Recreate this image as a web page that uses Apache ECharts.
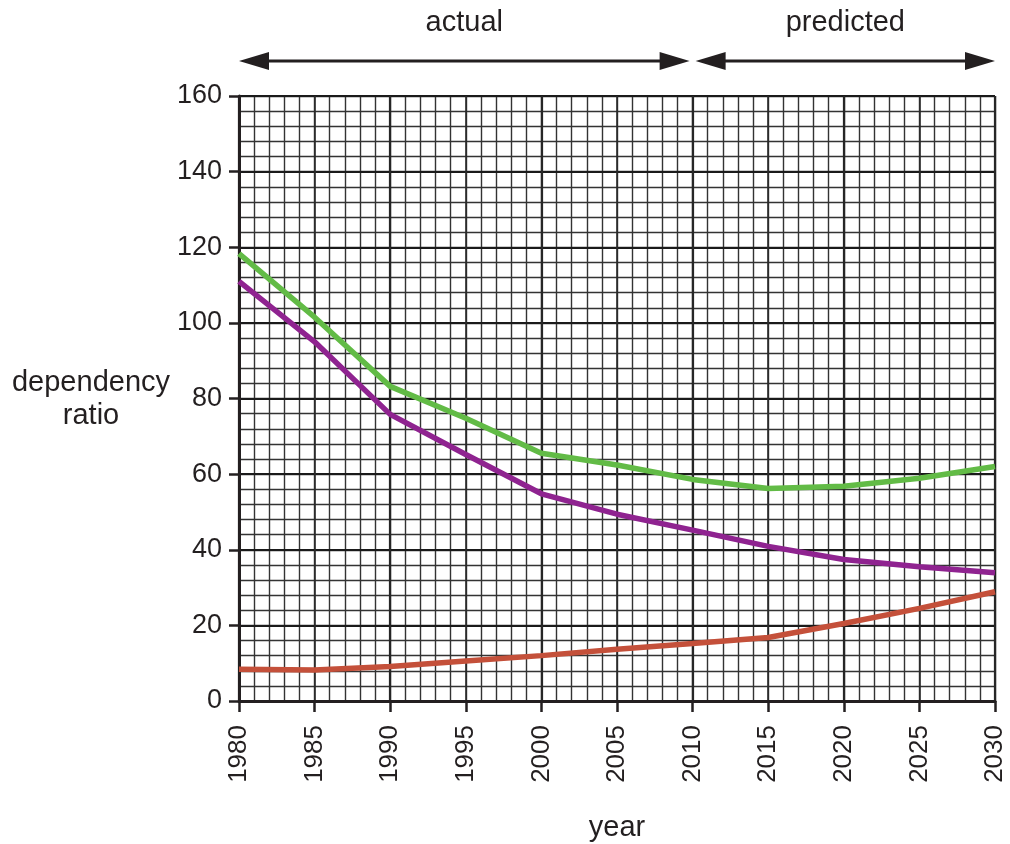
<!DOCTYPE html>
<html><head><meta charset="utf-8">
<script src="https://cdn.jsdelivr.net/npm/echarts@6/dist/echarts.min.js"></script>
<style>html,body{margin:0;padding:0;background:#fff}#c{width:1010px;height:844px}</style>
</head><body><div id="c"></div>
<script>
const years = [1980,1985,1990,1995,2000,2005,2010,2015,2020,2025,2030];
const greenVals  = [118.3,101.5,83.2,74.8,65.5,62.4,58.6,56.2,56.8,58.9,62.0];
const purpleVals = [111.0,95.0,75.8,65.2,54.8,49.4,45.2,40.9,37.4,35.5,33.9];
const redVals    = [8.4,8.2,9.1,10.6,12.0,13.7,15.2,16.8,20.5,24.5,28.9];
const yTicks = [0,20,40,60,80,100,120,140,160];
const periods = [
  {label:'actual', from:1980, to:2010},
  {label:'predicted', from:2010, to:2030}
];
const FONT = '"Liberation Sans", Arial, Helvetica, sans-serif';
const TXT = '#231f20';
const chart = echarts.init(document.getElementById('c'), null, {renderer:'canvas'});
const pair = v => years.map((y,i)=>[y,v[i]]);
const gridAxisX = (interval, color, width) => ({
  type:'value',min:1980,max:2030,interval:interval,position:'bottom',
  axisLine:{show:false},axisTick:{show:false},axisLabel:{show:false},
  splitLine:{show:true,lineStyle:{color:color,width:width}}
});
const gridAxisY = (interval, color, width) => ({
  type:'value',min:0,max:160,interval:interval,position:'left',
  axisLine:{show:false},axisTick:{show:false},axisLabel:{show:false},
  splitLine:{show:true,lineStyle:{color:color,width:width}}
});
const option = {
  animation:false,
  backgroundColor:'#fff',
  grid:{left:239,right:15,top:96,bottom:143,containLabel:false,outerBoundsMode:'none'},
  xAxis:[{
    type:'value',min:1980,max:2030,interval:5,
    name:'year',nameLocation:'middle',nameGap:112,
    nameTextStyle:{fontFamily:FONT,fontSize:29,color:TXT},
    axisLine:{show:true,onZero:false,lineStyle:{color:'#231f20',width:3}},
    axisTick:{show:true,length:11,lineStyle:{color:'#231f20',width:2.5}},
    axisLabel:{rotate:90,fontFamily:FONT,fontSize:26,color:TXT,margin:24,formatter:v=>String(v)},
    splitLine:{show:true,lineStyle:{color:'#2a2a2a',width:1.6}},
    z:3
  },
    gridAxisX(1,'#333',1.4),
    gridAxisX(10,'#1a1a1a',2.2)
  ],
  yAxis:[{
    type:'value',min:0,max:160,interval:20,
    axisLine:{show:true,lineStyle:{color:'#231f20',width:3}},
    axisTick:{show:true,length:10,lineStyle:{color:'#231f20',width:2.5}},
    axisLabel:{fontFamily:FONT,fontSize:27,color:TXT,margin:17,
      formatter:v=>yTicks.includes(v)?String(v):''},
    splitLine:{show:true,lineStyle:{color:'#1a1a1a',width:2}},
    z:3
  },
    gridAxisY(4,'#333',1.4)
  ],
  series:[
    {type:'line',data:pair(greenVals),symbol:'none',lineStyle:{color:'#62bb46',width:5.5},z:5},
    {type:'line',data:pair(purpleVals),symbol:'none',lineStyle:{color:'#8f2390',width:5.5},z:5},
    {type:'line',data:pair(redVals),symbol:'none',lineStyle:{color:'#c4503a',width:5.5},z:5}
  ]
};
chart.setOption(option);

const px = yr => chart.convertToPixel({xAxisIndex:0}, yr);
const arrowY = 61, headL = 30, headH = 9;
const gfx = [];
periods.forEach((p,i)=>{
  const gap = 3;
  const a = px(p.from) + (i>0?gap:0);
  const b = px(p.to) - (i<periods.length-1?gap:0);
  gfx.push({type:'line',shape:{x1:a+headL-4,y1:arrowY,x2:b-headL+4,y2:arrowY},style:{stroke:'#231f20',lineWidth:3}});
  gfx.push({type:'polygon',shape:{points:[[a,arrowY],[a+headL,arrowY-headH],[a+headL,arrowY+headH]]},style:{fill:'#231f20'}});
  gfx.push({type:'polygon',shape:{points:[[b,arrowY],[b-headL,arrowY-headH],[b-headL,arrowY+headH]]},style:{fill:'#231f20'}});
  gfx.push({type:'text',x:(a+b)/2,y:23,style:{text:p.label,font:'29px '+FONT,fill:TXT,align:'center',verticalAlign:'middle'}});
});
gfx.push({type:'text',x:91,y:399,style:{text:'dependency\nratio',font:'29px '+FONT,fill:TXT,align:'center',verticalAlign:'middle',lineHeight:33}});
chart.setOption({graphic:gfx});
</script></body></html>
